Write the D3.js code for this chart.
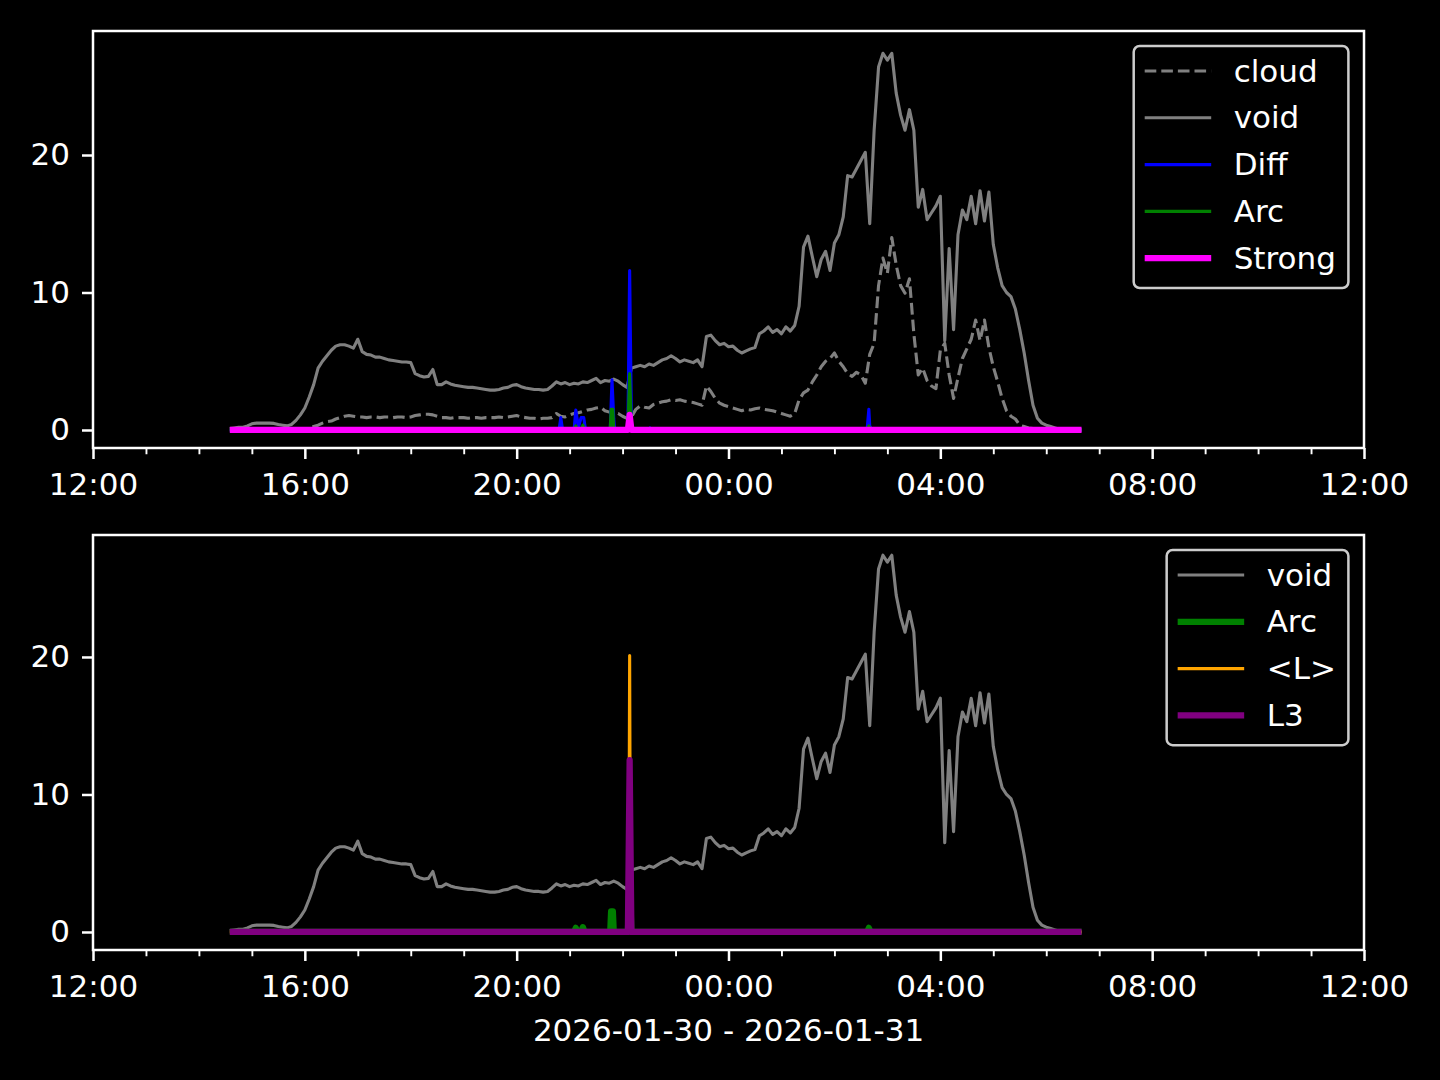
<!DOCTYPE html>
<html><head><meta charset="utf-8">
<script src="https://cdn.jsdelivr.net/npm/d3@7"></script>
<style>body{margin:0;background:#000;} svg{display:block;} text{font-family:"DejaVu Sans",sans-serif;}</style>
</head><body><svg id="chart" width="1440" height="1080"></svg>
<script>
// ---------------- DATA ----------------
const gridStart = "14:35";       // first sample of the regular series
const gridStepMinutes = 5;       // sample spacing of void / cloud

const voidValues = [
 0.1,0.15,0.2,0.2,0.3,0.45,0.5,0.5,0.5,0.5,
 0.48,0.4,0.35,0.3,0.4,0.7,1.1,1.6,2.4,3.3,
 4.5,5.0,5.4,5.8,6.1,6.2,6.2,6.1,5.95,6.6,
 5.7,5.5,5.45,5.3,5.3,5.2,5.1,5.05,5.0,4.95,
 4.95,4.9,4.1,3.95,3.85,3.9,4.4,3.3,3.3,3.5,
 3.35,3.25,3.2,3.15,3.1,3.1,3.05,3.0,2.95,2.9,
 2.9,2.95,3.05,3.1,3.25,3.3,3.15,3.05,3.0,2.95,
 2.95,2.9,2.95,3.2,3.5,3.35,3.45,3.3,3.4,3.35,
 3.5,3.45,3.6,3.75,3.45,3.6,3.55,3.7,3.55,3.3,
 3.1,4.5,4.6,4.7,4.6,4.8,4.7,4.9,5.1,5.2,
 5.4,5.2,4.95,5.1,5.0,4.9,5.1,4.6,6.8,6.9,
 6.5,6.2,6.3,6.05,6.1,5.8,5.6,5.75,5.9,6.0,
 7.0,7.2,7.5,7.1,7.3,7.0,7.5,7.2,7.6,9.0,
 13.3,14.1,12.6,11.15,12.4,13.0,11.6,13.6,14.2,15.5,
 18.5,18.4,19.0,19.6,20.2,15.0,21.8,26.4,27.4,26.9,
 27.4,24.5,22.9,21.8,23.3,21.8,16.2,17.5,15.3,15.8,
 16.3,17.0,6.5,13.2,7.3,14.2,16.0,15.3,17.0,15.0,
 17.4,15.2,17.3,13.5,11.8,10.5,10.0,9.7,8.8,7.3,
 5.6,3.6,1.8,0.85,0.5,0.35,0.25,0.15,0.05,0.0,
 0,0,0,0
];

const cloudValues = [
 0,0,0,0,0,0,0,0,0,0,
 0,0,0,0,0,0,0,0.05,0.15,0.25,
 0.35,0.5,0.6,0.65,0.8,0.9,1.0,1.05,1.0,0.95,
 0.95,0.9,0.95,0.95,0.9,0.95,0.95,0.9,0.95,0.95,
 0.9,0.95,1.05,1.1,1.15,1.15,1.1,1.0,0.9,0.9,
 0.85,0.9,0.9,0.9,0.85,0.9,0.9,0.85,0.9,0.9,
 0.9,0.95,0.9,0.95,1.0,1.05,0.95,0.9,0.85,0.85,
 0.8,0.85,0.85,0.9,1.2,1.0,0.95,1.1,1.2,1.25,
 1.35,1.45,1.5,1.6,1.65,1.4,1.3,1.25,1.2,1.0,
 0.85,0.95,1.5,1.75,1.65,1.6,1.85,1.95,2.05,2.1,
 2.2,2.15,2.2,2.1,2.05,2.0,1.9,1.8,3.2,2.8,
 2.3,1.95,1.8,1.7,1.6,1.5,1.4,1.5,1.45,1.55,
 1.6,1.5,1.45,1.4,1.3,1.2,1.1,1.0,1.2,2.2,
 2.7,2.9,3.5,4.0,4.6,5.0,5.2,5.6,5.0,4.6,
 4.1,3.9,4.2,4.0,3.4,5.5,6.3,10.5,12.5,11.4,
 14.0,12.0,10.5,9.95,11.0,7.0,4.0,4.5,3.6,3.2,
 3.0,5.8,6.3,4.0,2.3,3.8,5.2,5.9,6.6,8.0,
 6.5,8.0,6.0,4.6,3.5,2.3,1.4,1.0,0.8,0.35,
 0.25,0.15,0.1,0,0,0,0,0,0,0,
 0,0,0,0
];

const diffTimes  = ["14:35","20:48","20:50","20:52","21:05","21:07","21:10","21:13","21:16","21:18","21:46","21:48","21:50","21:51","22:06","22:08","22:10","22:12","22:29","22:31","22:33","02:37","02:39","02:40","02:42","06:40"];
const diffValues = [0,0,0.9,0,0,1.45,0.2,0.9,0.9,0,0,3.65,0.8,0,0,11.6,0.5,0,0,0.15,0,0,1.5,0.3,0,0];

const arcTimes  = ["14:35","21:05","21:07","21:09","21:13","21:15","21:17","21:46","21:47","21:49","21:50","22:06","22:08","22:10","02:37","02:39","02:41","06:40"];
const arcValues = [0,0,0.3,0,0,0.35,0,0,1.5,1.5,0,0,4.1,0,0,0.3,0,0];

const strongTimes  = ["14:35","22:06","22:08","22:10","06:40"];
const strongValues = [0,0,1.1,0,0];

const meanLTimes  = ["14:35","22:07","22:08","22:09","06:40"];
const meanLValues = [0,0,20.1,0,0];

const l3Times  = ["14:35","22:06","22:08","22:10","06:40"];
const l3Values = [0,0,12.5,0,0];

const topLabels    = ["cloud","void","Diff","Arc","Strong"];
const bottomLabels = ["void","Arc","<L>","L3"];
const yTickValues  = [0,10,20];
const xAxisLabel   = "2026-01-30 - 2026-01-31";

// ---------------- HELPERS ----------------
function parseClock(s){
  const [h,m] = s.split(":").map(Number);
  return new Date(Date.UTC(2026,0,h>=12?30:31,h,m));
}
const gridT0 = parseClock(gridStart);
const gridTimes = voidValues.map((_,i)=>new Date(gridT0.getTime()+i*gridStepMinutes*60000));
const pts = (times, values) => values.map((v,i)=>({t: times[i], v}));
const ptsClock = (times, values) => values.map((v,i)=>({t: parseClock(times[i]), v}));

const voidPts   = pts(gridTimes, voidValues);
const cloudPts  = pts(gridTimes, cloudValues);
const diffPts   = ptsClock(diffTimes, diffValues);
const arcPts    = ptsClock(arcTimes, arcValues);
const strongPts = ptsClock(strongTimes, strongValues);
const meanLPts  = ptsClock(meanLTimes, meanLValues);
const l3Pts     = ptsClock(l3Times, l3Values);

const THIN = 3.1, THICK = 6.25;
const panels = [
  {top:31, bottom:448, yDomain:[-1.31,29.02], tickLabels:true,
   series:[
     {label:topLabels[0], data:cloudPts, color:"#808080", w:THIN, dash:"11.6,5"},
     {label:topLabels[1], data:voidPts, color:"#808080", w:THIN},
     {label:topLabels[2], data:diffPts, color:"#0000ff", w:THIN},
     {label:topLabels[3], data:arcPts, color:"#008000", w:THIN},
     {label:topLabels[4], data:strongPts, color:"#ff00ff", w:THICK}
   ], legendMaxText:"Strong"},
  {top:535, bottom:950, yDomain:[-1.31,28.87],
   series:[
     {label:bottomLabels[0], data:voidPts, color:"#808080", w:THIN},
     {label:bottomLabels[1], data:arcPts, color:"#008000", w:THICK},
     {label:bottomLabels[2], data:meanLPts, color:"#ffa500", w:THIN},
     {label:bottomLabels[3], data:l3Pts, color:"#800080", w:THICK}
   ]}
];

const svg = d3.select("#chart");
svg.append("rect").attr("width",1440).attr("height",1080).attr("fill","#000");
const left = 93, right = 1364;
const FS = 31;

const x = d3.scaleUtc()
  .domain([new Date(Date.UTC(2026,0,30,12)), new Date(Date.UTC(2026,0,31,12))])
  .range([left,right]);
const majorTicks = d3.utcHour.every(4).range(x.domain()[0], new Date(x.domain()[1].getTime()+1));
const minorTicks = d3.utcHour.every(1).range(x.domain()[0], new Date(x.domain()[1].getTime()+1))
  .filter(d => d.getUTCHours() % 4 !== 0);

panels.forEach((p, pi) => {
  const y = d3.scaleLinear().domain(p.yDomain).range([p.bottom, p.top]);
  const g = svg.append("g");
  const clipId = "clip"+pi;
  svg.append("clipPath").attr("id",clipId).append("rect")
    .attr("x",left).attr("y",p.top).attr("width",right-left).attr("height",p.bottom-p.top);

  const line = d3.line().x(d=>x(d.t)).y(d=>y(d.v));
  const lg = g.append("g").attr("clip-path",`url(#${clipId})`);
  p.series.forEach(s => {
    lg.append("path").datum(s.data).attr("d",line)
      .attr("fill","none").attr("stroke",s.color).attr("stroke-width",s.w)
      .attr("stroke-linejoin","round").attr("stroke-linecap","butt")
      .attr("stroke-dasharray", s.dash || null);
  });

  // spines
  g.append("rect").attr("x",left).attr("y",p.top).attr("width",right-left).attr("height",p.bottom-p.top)
    .attr("fill","none").attr("stroke","#fff").attr("stroke-width",2.5);

  // x axis major
  const xa = g.append("g").attr("transform",`translate(0,${p.bottom})`)
    .call(d3.axisBottom(x).tickValues(majorTicks).tickFormat(d3.utcFormat("%H:%M")).tickSize(11).tickPadding(14));
  // x axis minor
  const xm = g.append("g").attr("transform",`translate(0,${p.bottom})`)
    .call(d3.axisBottom(x).tickValues(minorTicks).tickFormat("").tickSize(6.25));
  // y axis
  const ya = g.append("g").attr("transform",`translate(${left},0)`)
    .call(d3.axisLeft(y).tickValues(yTickValues).tickSize(11).tickPadding(12));

  [xa,xm,ya].forEach(a=>{
    a.select(".domain").remove();
    a.selectAll("line").attr("stroke","#fff").attr("stroke-width",2.5);
    a.selectAll("text").attr("fill","#fff").style("font-size",FS+"px")
      .style("font-family","'DejaVu Sans', sans-serif");
  });
  xm.selectAll("line").attr("stroke-width",1.9);

  // legend
  const n = p.series.length;
  const rowH = 46.8;
  const tmp = svg.append("text").style("font-size",FS+"px").style("font-family","'DejaVu Sans', sans-serif");
  let maxW = 0;
  p.series.forEach(s=>{ tmp.text(s.label); maxW = Math.max(maxW, tmp.node().getComputedTextLength()); });
  tmp.remove();
  const pad = 12.5, handle = 62.5, htp = 25;
  const lw = pad + handle + htp + maxW + pad;
  const lh = n*rowH + 8;
  const lx = right - 15.6 - lw;
  const ly = p.top + 15;
  const leg = g.append("g");
  leg.append("rect").attr("x",lx).attr("y",ly).attr("width",lw).attr("height",lh)
    .attr("rx",6).attr("ry",6).attr("fill","rgba(0,0,0,0.8)")
    .attr("stroke","#cccccc").attr("stroke-width",2.5);
  p.series.forEach((s,i)=>{
    const cy = ly + 25 + i*rowH;
    leg.append("line").attr("x1",lx+11).attr("x2",lx+11+handle+4).attr("y1",cy).attr("y2",cy)
      .attr("stroke",s.color).attr("stroke-width",s.w).attr("stroke-dasharray",s.dash||null);
    leg.append("text").attr("x",lx+pad+handle+htp).attr("y",cy+10.5)
      .attr("fill","#fff").style("font-size",FS+"px").text(s.label);
  });
});

svg.append("text").attr("x",(left+right)/2).attr("y",1041).attr("text-anchor","middle")
  .attr("fill","#fff").style("font-size",FS+"px").text(xAxisLabel);
</script>
</body></html>
